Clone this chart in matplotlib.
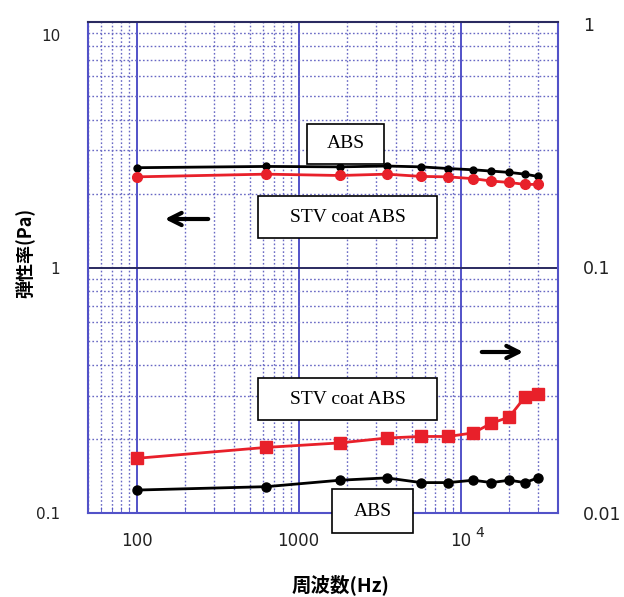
import matplotlib
matplotlib.use("Agg")
import matplotlib.pyplot as plt
from matplotlib.patches import Rectangle
from matplotlib.ticker import FixedLocator, NullFormatter, LogLocator
import matplotlib.transforms as mtransforms

# ---- data ----
freq = [100, 630, 1800, 3500, 5700, 8400, 12000, 15500, 20000, 25000, 30000]
abs_elastic = [2.55, 2.58, 2.57, 2.59, 2.57, 2.53, 2.50, 2.47, 2.44, 2.40, 2.35]
stv_elastic = [2.34, 2.40, 2.37, 2.40, 2.35, 2.34, 2.30, 2.25, 2.22, 2.18, 2.18]
stv_loss = [0.0167, 0.0185, 0.0193, 0.0202, 0.0205, 0.0205, 0.0212, 0.0232, 0.0246, 0.0297, 0.0306]
abs_loss = [0.0124, 0.0128, 0.0136, 0.0139, 0.0133, 0.0133, 0.0136, 0.0133, 0.0136, 0.0133, 0.0139]

x_ticks = [100, 1000, 10000]
x_ticklabels = ["100", "1000", "10"]
yl_ticks = [0.1, 1, 10]
yl_ticklabels = ["0.1", "1", "10"]
yr_ticks = [0.01, 0.1, 1]
yr_ticklabels = ["0.01", "0.1", "1"]

plt.rcParams['font.family'] = ['DejaVu Sans']

W, H = 624, 597
fig = plt.figure(figsize=(W / 100, H / 100), dpi=100)

L, R, T, B = 88, 558, 22, 513
ax = fig.add_axes([L / W, 1 - B / H, (R - L) / W, (B - T) / H])
ax.set_xscale('log')
ax.set_yscale('log')
ax.set_xlim(50, 40000)
ax.set_ylim(0.1, 10)

blue = '#5252c8'
navy = '#2a2a60'
ax.xaxis.set_major_locator(FixedLocator(x_ticks))
ax.xaxis.set_minor_locator(LogLocator(base=10, subs=range(2, 10), numticks=20))
ax.xaxis.set_minor_formatter(NullFormatter())
ax.yaxis.set_major_locator(FixedLocator(yl_ticks))
ax.yaxis.set_minor_locator(LogLocator(base=10, subs=range(2, 10), numticks=20))
ax.yaxis.set_minor_formatter(NullFormatter())
ax.set_xticklabels(x_ticklabels)
ax.set_yticklabels(yl_ticklabels)

ax.grid(True, axis='x', which='major', color=blue, lw=1.4, ls='-')
ax.grid(True, axis='y', which='major', color=navy, lw=1.4, ls='-')
ax.grid(True, which='minor', color='#6868c4', lw=1.0, ls=(0, (1.2, 1.6)))
ax.set_axisbelow(True)

for s in ['left', 'right', 'bottom']:
    ax.spines[s].set_color(blue)
    ax.spines[s].set_linewidth(1.5)
ax.spines['top'].set_color(navy)
ax.spines['top'].set_linewidth(1.5)

ax.tick_params(axis='x', which='both', direction='in', colors=blue, labelcolor='#222222',
               labelsize=12, pad=14)
ax.tick_params(axis='x', which='minor', length=4)
ax.tick_params(axis='x', which='major', length=0)
ax.tick_params(axis='y', which='both', length=0, labelcolor='#222222', labelsize=11, pad=20)

ax.plot(freq, abs_elastic, color='black', lw=2, marker='o', ms=5, zorder=3)
ax.plot(freq, stv_elastic, color='#e8202a', lw=2, marker='o', ms=7, zorder=3)

ax2 = ax.twinx()
ax2.set_yscale('log')
ax2.set_ylim(0.01, 1)
ax2.yaxis.set_major_locator(FixedLocator(yr_ticks))
ax2.yaxis.set_minor_locator(FixedLocator([]))
ax2.set_yticklabels(yr_ticklabels)
ax2.tick_params(axis='y', length=0, labelsize=12.5, labelcolor='#222222', pad=18)
for s in ax2.spines.values():
    s.set_visible(False)
ax2.plot(freq, stv_loss, color='#e8202a', lw=2, marker='s', ms=8.5, zorder=3)
ax2.plot(freq, abs_loss, color='black', lw=2, marker='o', ms=6.5, zorder=3)

# offset the top tick labels like the original
for lab, val in zip(ax.get_yticklabels(), yl_ticks):
    if val == 10:
        lab.set_transform(lab.get_transform() + mtransforms.ScaledTranslation(0, -13 / 100, fig.dpi_scale_trans))
for lab, val in zip(ax2.get_yticklabels(), yr_ticks):
    if val == 1:
        lab.set_transform(lab.get_transform() + mtransforms.ScaledTranslation(0, -2 / 100, fig.dpi_scale_trans))

# superscript for 10^4
ax.annotate("4", xy=(10000, 0), xycoords=('data', 'axes fraction'),
            xytext=(19, -20), textcoords='offset pixels', fontsize=10, color='#222222',
            ha='center', va='center')

# axis labels
jp = ['Noto Sans CJK JP', 'DejaVu Sans']
fig.text(341 / W, 1 - 585 / H, "周波数(Hz)", family=jp, fontsize=14, fontweight='bold',
         ha='center', va='center')
fig.text(25 / W, 1 - 253 / H, "弾性率(Pa)", family=jp, fontsize=13, fontweight='bold',
         ha='center', va='center', rotation=90)


def box(x0, y0, x1, y1, label):
    fig.patches.append(Rectangle((x0 / W, 1 - y1 / H), (x1 - x0) / W, (y1 - y0) / H,
                                 transform=fig.transFigure, facecolor='white',
                                 edgecolor='black', lw=1.2, zorder=5))
    fig.text((x0 + x1) / 2 / W, 1 - (y0 + y1) / 2 / H, label, family='Liberation Serif',
             fontsize=14, ha='center', va='center', zorder=6)


box(307, 124, 384, 164, "ABS")
box(258, 196, 437, 238, "STV coat ABS")
box(258, 378, 437, 420, "STV coat ABS")
box(332, 489, 413, 533, "ABS")

# arrows
fig.add_artist(matplotlib.patches.FancyArrowPatch((211 / W, 1 - 219 / H), (162 / W, 1 - 219 / H),
                                                  transform=fig.transFigure, arrowstyle='->',
                                                  mutation_scale=22, lw=3, color='black', zorder=6))
fig.add_artist(matplotlib.patches.FancyArrowPatch((479 / W, 1 - 352 / H), (526 / W, 1 - 352 / H),
                                                  transform=fig.transFigure, arrowstyle='->',
                                                  mutation_scale=22, lw=3, color='black', zorder=6))

fig.savefig("out.png", dpi=100)
